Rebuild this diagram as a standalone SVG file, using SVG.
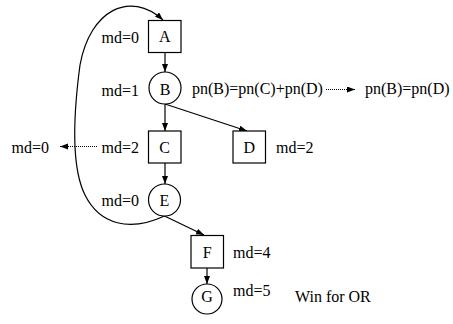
<svg xmlns="http://www.w3.org/2000/svg" width="453" height="324" viewBox="0 0 453 324">
<style>
text{font-family:"Liberation Serif","Times New Roman",serif;font-size:16px;fill:#000}
.lbl{text-anchor:middle}
.node{fill:#fff;stroke:#000;stroke-width:1.2}
.edge{fill:none;stroke:#000;stroke-width:1.2}
.dot{fill:none;stroke:#000;stroke-width:1.2;stroke-dasharray:1 1}
</style>
<defs>
<marker id="ah" markerUnits="userSpaceOnUse" markerWidth="10" markerHeight="8" refX="8" refY="3" orient="auto">
<path d="M0,0 L8,3 L0,6 Z" fill="#000"/>
</marker>
</defs>
<rect width="453" height="324" fill="#fff"/>
<g id="connectors">
<path class="edge" d="M165,52 L165,72" marker-end="url(#ah)"/>
<path class="edge" d="M165,104 L165,131" marker-end="url(#ah)"/>
<path class="edge" d="M165,104 L247,131" marker-end="url(#ah)"/>
<path class="edge" d="M165,163 L165,184" marker-end="url(#ah)"/>
<path class="edge" d="M164.5,216 L204,235" marker-end="url(#ah)"/>
<path class="edge" d="M207,268 L207,284" marker-end="url(#ah)"/>
<path class="edge" d="M164.5,216 C130,232 100,225 85,195 C70,165 74,110 80,65 C90,10 130,-10 163,20" marker-end="url(#ah)"/>
<path class="dot" d="M326,89.5 L355,89.5" marker-end="url(#ah)"/>
<path class="dot" d="M97,146.5 L60,146.5" marker-end="url(#ah)"/>
</g>
<g id="A"><rect class="node" x="148.5" y="20.5" width="32.5" height="32"/><text class="lbl" x="164.7" y="42">A</text></g>
<g id="B"><circle class="node" cx="165" cy="88" r="16"/><text class="lbl" x="165" y="95">B</text></g>
<g id="C"><rect class="node" x="148.5" y="131" width="32.5" height="32"/><text class="lbl" x="164.7" y="153">C</text></g>
<g id="D"><rect class="node" x="233" y="131" width="32.5" height="32"/><text class="lbl" x="249.2" y="153">D</text></g>
<g id="E"><circle class="node" cx="164.5" cy="200" r="16"/><text class="lbl" x="164.5" y="206">E</text></g>
<g id="F"><rect class="node" x="191" y="235.5" width="32.5" height="32.5"/><text class="lbl" x="207.2" y="258">F</text></g>
<g id="G"><circle class="node" cx="207" cy="299" r="15"/><text class="lbl" x="207" y="302">G</text></g>
<g id="labels">
<text x="101.5" y="43">md=0</text>
<text x="101.5" y="96">md=1</text>
<text x="192" y="94">pn(B)=pn(C)+pn(D)</text>
<text x="365" y="94">pn(B)=pn(D)</text>
<text x="11.5" y="153">md=0</text>
<text x="101.5" y="153">md=2</text>
<text x="276" y="153">md=2</text>
<text x="101.5" y="206">md=0</text>
<text x="233" y="258">md=4</text>
<text x="233" y="296">md=5</text>
<text x="295" y="302">Win for OR</text>
</g>
</svg>
